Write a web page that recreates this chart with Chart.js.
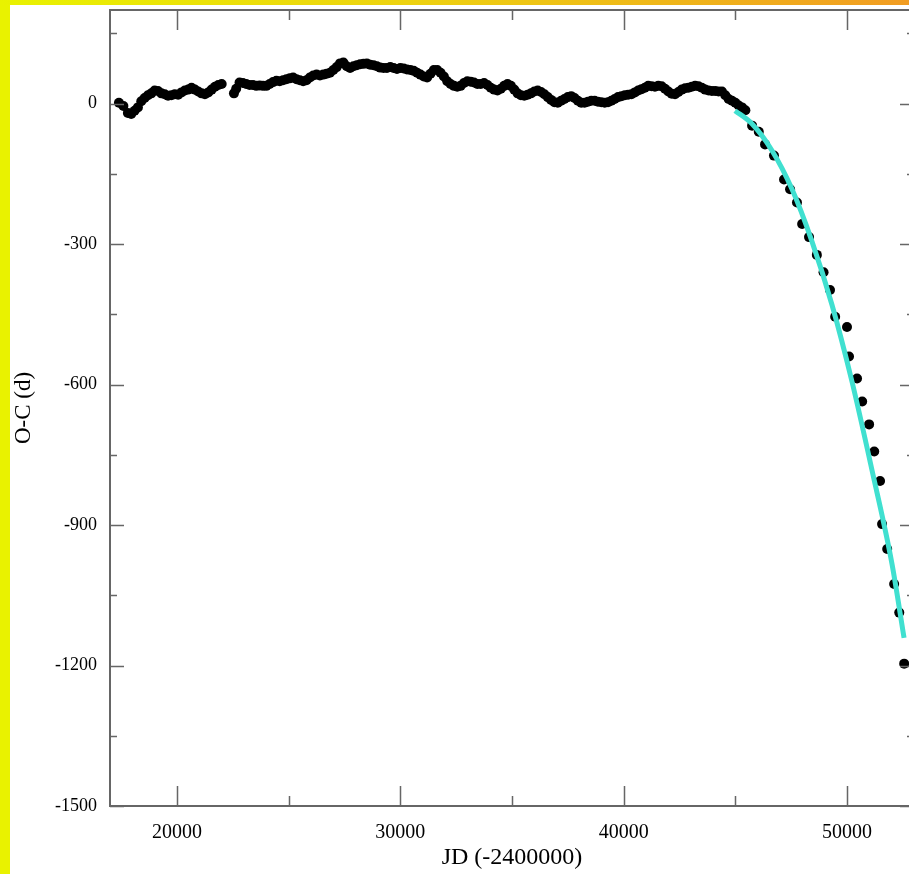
<!DOCTYPE html>
<html>
<head>
<meta charset="utf-8">
<title>O-C diagram</title>
<script src="https://cdn.jsdelivr.net/npm/chart.js@4/dist/chart.umd.min.js"></script>
<style>
  html, body { margin: 0; padding: 0; width: 909px; height: 874px; overflow: hidden; background: #fff; }
  #leftBar { position: absolute; left: 0; top: 0; width: 10px; height: 874px; background: #e9f200; }
  #topBar { position: absolute; left: 0; top: 0; width: 909px; height: 5px;
    background: linear-gradient(to right, #e9f200, #edd210 45%, #f19c22); }
  #wrap { position: absolute; left: 10px; top: 5px; width: 920px; height: 869px; }
</style>
</head>
<body>
<div id="leftBar"></div>
<div id="topBar"></div>
<div id="wrap"><canvas id="chart"></canvas></div>
<script>
// observed O-C values (JD - 2400000, days)
const obsJD = [
  17400, 17600, 17800, 17950, 18100, 18250, 18400, 18550, 18700, 18850,
  19000, 19150, 19300, 19450, 19600, 19750, 19900, 20050, 20200, 20350,
  20500, 20650, 20800, 20950, 21100, 21250, 21400, 21550, 21700, 21850,
  22000, 22550, 22650, 22800, 22950, 23100, 23250, 23400, 23550, 23700,
  23850, 24000, 24150, 24300, 24450, 24600, 24750, 24900, 25050, 25200,
  25350, 25500, 25650, 25800, 25950, 26100, 26250, 26400, 26550, 26700,
  26850, 27000, 27150, 27300, 27450, 27600, 27750, 27900, 28050, 28200,
  28350, 28500, 28650, 28800, 28950, 29100, 29250, 29400, 29550, 29700,
  29850, 30000, 30150, 30300, 30450, 30600, 30750, 30900, 31050, 31200,
  31350, 31500, 31650, 31800, 31950, 32100, 32250, 32400, 32550, 32700,
  32850, 33000, 33150, 33300, 33450, 33600, 33750, 33900, 34050, 34200,
  34350, 34500, 34650, 34800, 34950, 35100, 35250, 35400, 35550, 35700,
  35850, 36000, 36150, 36300, 36450, 36600, 36750, 36900, 37050, 37200,
  37350, 37500, 37650, 37800, 37950, 38100, 38250, 38400, 38550, 38700,
  38850, 39000, 39150, 39300, 39450, 39600, 39750, 39900, 40050, 40200,
  40350, 40500, 40650, 40800, 40950, 41100, 41250, 41400, 41550, 41700,
  41850, 42000, 42150, 42300, 42450, 42600, 42750, 42900, 43050, 43200,
  43350, 43500, 43650, 43800, 43950, 44100, 44250, 44400, 44550, 44700,
  44850, 45000, 45150, 45300, 45450, 45750, 46050, 46330, 46730, 47180,
  47450, 47760, 47990, 48300, 48650, 48950, 49240, 49470, 50000, 50090,
  50450, 50680, 50990, 51220, 51480, 51570, 51800, 52110, 52340, 52560
];
const obsOC = [
  2, -5, -20, -22, -15, -8, 5, 12, 18, 22,
  28, 27, 22, 20, 17, 18, 20, 19, 24, 28,
  30, 34, 30, 26, 22, 20, 24, 30, 36, 40,
  42, 22, 32, 45, 44, 42, 40, 40, 38, 39,
  38, 38, 42, 46, 49, 48, 50, 52, 54, 56,
  52, 50, 48, 50, 56, 60, 62, 60, 62, 64,
  66, 72, 78, 86, 88, 80, 76, 80, 82, 84,
  85, 86, 83, 82, 80, 77, 76, 76, 78, 76,
  74, 76, 75, 73, 72, 70, 66, 62, 58, 56,
  64, 72, 72, 66, 58, 48, 42, 38, 36, 38,
  44, 48, 47, 45, 42, 42, 44, 40, 34, 30,
  28, 32, 38, 42, 38, 30, 22, 18, 17, 19,
  22, 26, 28, 25, 20, 14, 8, 3, 2, 6,
  10, 14, 16, 12, 6, 2, 2, 4, 6, 6,
  4, 3, 2, 3, 6, 10, 14, 16, 18, 19,
  20, 24, 28, 31, 34, 38, 37, 36, 38, 37,
  32, 26, 21, 20, 25, 30, 33, 34, 36, 38,
  37, 34, 30, 28, 27, 27, 26, 26, 18, 10,
  6, 2, -4, -8, -14, -47, -60, -87, -111, -162,
  -183, -211, -257, -285, -323, -360, -398, -455, -477, -540,
  -587, -636, -685, -743, -806, -898, -951, -1026, -1087, -1196
];

// parabolic fit to the recent part
const fitJD = [44985, 45745, 46640, 47540, 48430, 49330, 50225, 51120, 52015, 52555];
const fitOC = [-15, -43, -100, -183, -294, -430, -594, -783, -983, -1141];

// axis ticks (major ones get a label)
const xTickValues = [20000, 25000, 30000, 35000, 40000, 45000, 50000];
const xLabelValues = [20000, 30000, 40000, 50000];
const yTickValues = [150, 0, -150, -300, -450, -600, -750, -900, -1050, -1200, -1350, -1500];
const yLabelValues = [0, -300, -600, -900, -1200, -1500];

const frameColor = '#666';

// draws box frame and inward ticks on all four sides
const frameTicks = {
  id: 'frameTicks',
  afterDraw(chart) {
    const ctx = chart.ctx;
    const a = chart.chartArea;
    const xs = chart.scales.x;
    const ys = chart.scales.y;
    ctx.save();
    ctx.strokeStyle = frameColor;
    ctx.lineWidth = 2;
    ctx.strokeRect(a.left, a.top, a.right - a.left, a.bottom - a.top);
    ctx.lineWidth = 1.5;
    xTickValues.forEach(v => {
      const len = xLabelValues.includes(v) ? 20 : 10;
      const px = Math.round(xs.getPixelForValue(v)) + 0.5;
      ctx.beginPath();
      ctx.moveTo(px, a.bottom); ctx.lineTo(px, a.bottom - len);
      ctx.moveTo(px, a.top); ctx.lineTo(px, a.top + len);
      ctx.stroke();
    });
    yTickValues.forEach(v => {
      const len = yLabelValues.includes(v) ? 14 : 7;
      const py = Math.round(ys.getPixelForValue(v)) + 0.5;
      ctx.beginPath();
      ctx.moveTo(a.left, py); ctx.lineTo(a.left + len, py);
      ctx.moveTo(a.right, py); ctx.lineTo(a.right - len, py);
      ctx.stroke();
    });
    ctx.restore();
  }
};

const obsPoints = obsJD.map((x, i) => ({ x: x, y: obsOC[i] }));
const fitPoints = fitJD.map((x, i) => ({ x: x, y: fitOC[i] }));

const serif = '"Liberation Serif", "DejaVu Serif", serif';

new Chart(document.getElementById('chart'), {
  type: 'scatter',
  data: {
    datasets: [
      {
        label: 'fit',
        data: fitPoints,
        showLine: true,
        borderColor: '#40e0d0',
        borderWidth: 5,
        pointRadius: 0,
        cubicInterpolationMode: 'monotone',
        order: 0
      },
      {
        label: 'O-C',
        data: obsPoints,
        backgroundColor: '#000',
        borderWidth: 0,
        pointRadius: 5,
        order: 1
      }
    ]
  },
  options: {
    responsive: true,
    maintainAspectRatio: false,
    animation: false,
    layout: { padding: { top: 3, right: 16, bottom: 0, left: 0 } },
    plugins: { legend: { display: false }, tooltip: { enabled: false } },
    scales: {
      x: {
        type: 'linear',
        min: 17000,
        max: 53000,
        grid: { display: false, drawTicks: false },
        border: { display: false },
        afterBuildTicks(scale) { scale.ticks = xLabelValues.map(v => ({ value: v })); },
        ticks: {
          padding: 15,
          color: '#000',
          font: { family: serif, size: 20 },
          callback: v => String(v)
        },
        title: {
          display: true,
          text: 'JD (-2400000)',
          color: '#000',
          font: { family: serif, size: 24 },
          padding: { top: 0, bottom: 2 }
        },
        afterFit(scale) {
          scale.height = 68;
          scale.paddingLeft = 0;
          scale.paddingRight = 0;
        }
      },
      y: {
        type: 'linear',
        min: -1500,
        max: 200,
        grid: { display: false, drawTicks: false },
        border: { display: false },
        afterBuildTicks(scale) { scale.ticks = yLabelValues.map(v => ({ value: v })); },
        ticks: {
          padding: 13,
          color: '#000',
          font: { family: serif, size: 18 },
          callback: v => String(v)
        },
        title: {
          display: true,
          text: 'O-C (d)',
          color: '#000',
          font: { family: serif, size: 23 },
          padding: { top: 0, bottom: 0 }
        },
        afterFit(scale) {
          scale.width = 100;
          scale.paddingTop = 0;
          scale.paddingBottom = 0;
        }
      }
    }
  },
  plugins: [frameTicks]
});
</script>
</body>
</html>
